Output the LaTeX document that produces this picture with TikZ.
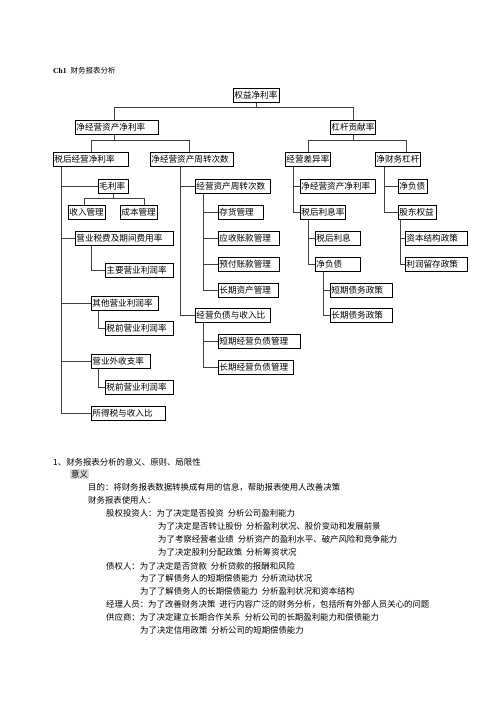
\documentclass[tikz,border=0pt]{standalone}
\usepackage{fontspec}
\setmainfont{Noto Sans CJK SC}
\newfontfamily\latn{Liberation Serif}
\newcommand\gap{\hspace{4pt}}
\tikzset{
  box/.style={draw,line width=0.8pt,anchor=north west,inner xsep=1pt,inner ysep=0pt,
    minimum height=14pt,text width=#1,align=left,font=\fontsize{8.6}{10}\selectfont},
  txt/.style={anchor=west,inner sep=0pt,font=\fontsize{8.4}{10}\selectfont},
  wire/.style={line width=0.7pt,black!75},
}
\begin{document}
\begin{tikzpicture}[x=1pt,y=-1pt]
\useasboundingbox (0,0) rectangle (496,702);
\node[anchor=west,inner sep=0pt,font=\fontsize{7.5}{9}\selectfont] (title) at (53,71)
  {{\latn\bfseries Ch1}\hspace{4pt}财务报表分析};

% boxes
\node[box=44pt] (root)  at (233,88)  {权益净利率};
\node[box=81pt] (rnoa)  at (75,120)  {净经营资产净利率};
\node[box=43pt] (lev)   at (330,120) {杠杆贡献率};
\node[box=73pt] (atoi)  at (53,152)  {税后经营净利率};
\node[box=81pt] (nat)   at (150,152) {净经营资产周转次数};
\node[box=43pt] (spread) at (285,152) {经营差异率};
\node[box=43pt] (nfl)   at (375,152) {净财务杠杆};
\node[box=28pt] (gm)    at (98,179)  {毛利率};
\node[box=73pt] (oat)   at (195,179) {经营资产周转次数};
\node[box=73pt] (rnoa2) at (300,179) {净经营资产净利率};
\node[box=27pt] (nd)    at (398,179) {净负债};
\node[box=35pt] (rev)   at (68,205)  {收入管理};
\node[box=35pt] (cost)  at (120,205) {成本管理};
\node[box=43pt] (inv)   at (218,205) {存货管理};
\node[box=43pt] (ir)    at (300,205) {税后利息率};
\node[box=36pt] (eq)    at (398,205) {股东权益};
\node[box=96pt] (tax)   at (75,231)  {营业税费及期间费用率};
\node[box=59pt] (ar)    at (218,231) {应收账款管理};
\node[box=43pt] (ii)    at (315,231) {税后利息};
\node[box=60pt] (cap)   at (405,231) {资本结构政策};
\node[box=59pt] (pre)   at (218,257) {预付账款管理};
\node[box=43pt] (nd2)   at (315,257) {净负债};
\node[box=60pt] (ret)   at (405,257) {利润留存政策};
\node[box=66pt] (main)  at (105,263) {主要营业利润率};
\node[box=58pt] (lta)   at (218,283) {长期资产管理};
\node[box=60pt] (sdp)   at (330,283) {短期债务政策};
\node[box=65pt] (oth)   at (91,296)  {其他营业利润率};
\node[box=73pt] (olr)   at (195,308) {经营负债与收入比};
\node[box=60pt] (ldp)   at (330,308) {长期债务政策};
\node[box=66pt] (pre1)  at (105,321) {税前营业利润率};
\node[box=80pt] (sol)   at (218,334) {短期经营负债管理};
\node[box=57pt] (nonop) at (91,354)  {营业外收支率};
\node[box=73pt] (lol)   at (218,360) {长期经营负债管理};
\node[box=66pt] (pre2)  at (105,380) {税前营业利润率};
\node[box=72pt] (itr)   at (91,406)  {所得税与收入比};

% top tree
\draw[wire] (root.south) -- ++(0,5) coordinate (j1);
\draw[wire] ([xshift=-3pt]rnoa.north) |- (j1) -| (lev.north);
\draw[wire] ([xshift=-3pt]rnoa.south) -- ++(0,6) coordinate (j2);
\draw[wire] (atoi.north) |- (j2) -| ([xshift=-3pt]nat.north);
\draw[wire] (lev.south) -- ++(0,6) coordinate (j3);
\draw[wire] (spread.north) |- (j3) -| ([xshift=8pt]nfl.north);
\draw[wire] (gm.south) -- ++(0,5) coordinate (j4);
\draw[wire] ([xshift=-3pt]rev.north) |- (j4) -| ([xshift=5pt]cost.north);

% side trunks
\coordinate (t1) at ([xshift=8pt]atoi.south west);
\draw[wire] (t1) |- (itr.west);
\foreach \n in {gm,tax,oth,nonop} \draw[wire] (t1 |- \n.west) -- (\n.west);
\coordinate (t2) at ([xshift=30pt]nat.south west);
\draw[wire] (t2) |- (olr.west);
\draw[wire] (t2 |- oat.west) -- (oat.west);
\coordinate (t3) at ([xshift=8pt]oat.south west);
\draw[wire] (t3) |- (lta.west);
\foreach \n in {inv,ar,pre} \draw[wire] (t3 |- \n.west) -- (\n.west);
\coordinate (t4) at ([xshift=8pt]olr.south west);
\draw[wire] (t4) |- (lol.west);
\draw[wire] (t4 |- sol.west) -- (sol.west);
\coordinate (t5) at ([xshift=8pt]spread.south west);
\draw[wire] (t5) |- (ir.west);
\draw[wire] (t5 |- rnoa2.west) -- (rnoa2.west);
\coordinate (t6) at ([xshift=8pt]ir.south west);
\draw[wire] (t6) |- (nd2.west);
\draw[wire] (t6 |- ii.west) -- (ii.west);
\coordinate (t7) at ([xshift=8pt]nd2.south west);
\draw[wire] (t7) |- (ldp.west);
\draw[wire] (t7 |- sdp.west) -- (sdp.west);
\coordinate (t8) at ([xshift=9pt]nfl.south west);
\draw[wire] (t8) |- (eq.west);
\draw[wire] (t8 |- nd.west) -- (nd.west);
\coordinate (t9) at ([xshift=2pt]eq.south west);
\draw[wire] (t9) |- (ret.west);
\draw[wire] (t9 |- cap.west) -- (cap.west);
\draw[wire] ([xshift=16pt]tax.south west) |- (main.west);
\draw[wire] ([xshift=7pt]oth.south west) |- (pre1.west);
\draw[wire] ([xshift=7pt]nonop.south west) |- (pre2.west);

% notes
\node[txt] (s1) at (53,462) {1、财务报表分析的意义、原则、局限性};
\node[txt,fill=black!15,inner sep=1pt] (s2) at (70,474) {意义};
\node[txt] (s3) at (88,487) {目的：将财务报表数据转换成有用的信息，帮助报表使用人改善决策};
\node[txt] (s4) at (88,500) {财务报表使用人：};
\node[txt] (s5) at (106,513) {股权投资人：为了决定是否投资\gap 分析公司盈利能力};
\node[txt] (s6) at (158,526) {为了决定是否转让股份\gap 分析盈利状况、股价变动和发展前景};
\node[txt] (s7) at (158,539) {为了考察经营者业绩\gap 分析资产的盈利水平、破产风险和竞争能力};
\node[txt] (s8) at (158,552) {为了决定股利分配政策\gap 分析筹资状况};
\node[txt] (s9) at (106,566) {债权人：为了决定是否贷款\gap 分析贷款的报酬和风险};
\node[txt] (s10) at (140,578) {为了了解债务人的短期偿债能力\gap 分析流动状况};
\node[txt] (s11) at (140,591) {为了了解债务人的长期偿债能力\gap 分析盈利状况和资本结构};
\node[txt] (s12) at (106,604) {经理人员：为了改善财务决策\gap 进行内容广泛的财务分析，包括所有外部人员关心的问题};
\node[txt] (s13) at (106,617) {供应商：为了决定建立长期合作关系\gap 分析公司的长期盈利能力和偿债能力};
\node[txt] (s14) at (140,630) {为了决定信用政策\gap 分析公司的短期偿债能力};
\end{tikzpicture}
\end{document}
